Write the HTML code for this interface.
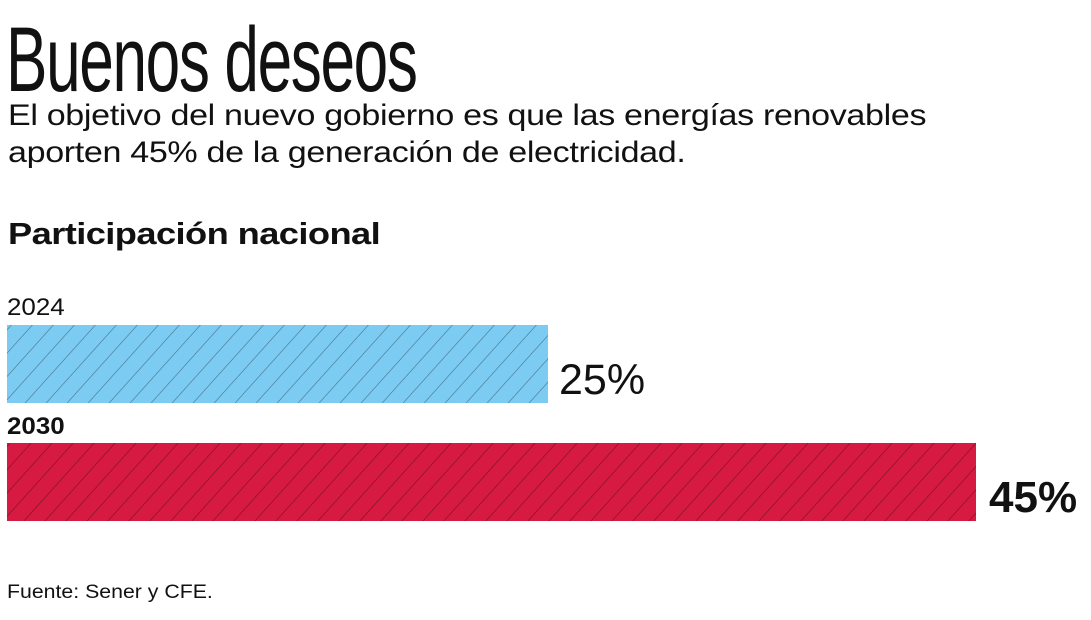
<!DOCTYPE html>
<html><head><meta charset="utf-8"><style>
body{margin:0;width:1091px;height:620px;background:#fff;overflow:hidden;position:relative;font-family:"Liberation Sans",sans-serif;color:#111}
.t{position:absolute;white-space:nowrap;line-height:1;transform-origin:0 0}
</style></head><body>
<div class="t" style="left:6px;top:14px;font-size:92px;letter-spacing:-2px;transform:scaleX(0.675);font-family:'Liberation Sans Narrow','Liberation Sans',sans-serif">Buenos deseos</div>
<div class="t" style="left:8px;top:101px;font-size:30px;letter-spacing:-0.3px;transform:scaleX(1.135)">El objetivo del nuevo gobierno es que las energías renovables</div>
<div class="t" style="left:8px;top:138px;font-size:30px;letter-spacing:-0.3px;transform:scaleX(1.135)">aporten 45% de la generación de electricidad.</div>
<div class="t" style="left:8px;top:218px;font-size:31px;font-weight:bold;letter-spacing:-0.5px;transform:scaleX(1.17)">Participación nacional</div>
<div class="t" style="left:7px;top:296px;font-size:24px;transform:scaleX(1.08)">2024</div>
<div class="t" style="left:7px;top:415px;font-size:24px;font-weight:bold;transform:scaleX(1.08)">2030</div>
<svg style="position:absolute;left:0;top:0" width="1091" height="620">
<defs>
<pattern id="h" width="21" height="78" patternUnits="userSpaceOnUse" patternTransform="skewX(-42)">
<line x1="10" y1="0" x2="10" y2="78" stroke="#000" stroke-opacity="0.35" stroke-width="1"/>
</pattern>
</defs>
<rect x="7" y="325" width="541" height="78" fill="#7ccbf2"/>
<rect x="7" y="325" width="541" height="78" fill="url(#h)"/>
<rect x="7" y="443" width="969" height="78" fill="#d71a42"/>
<rect x="7" y="443" width="969" height="78" fill="url(#h)"/>
</svg>
<div class="t" style="left:559px;top:359px;font-size:43px">25%</div>
<div class="t" style="left:989px;top:476px;font-size:44px;font-weight:bold">45%</div>
<div class="t" style="left:7px;top:583px;font-size:19px;transform:scaleX(1.12)">Fuente: Sener y CFE.</div>
</body></html>
